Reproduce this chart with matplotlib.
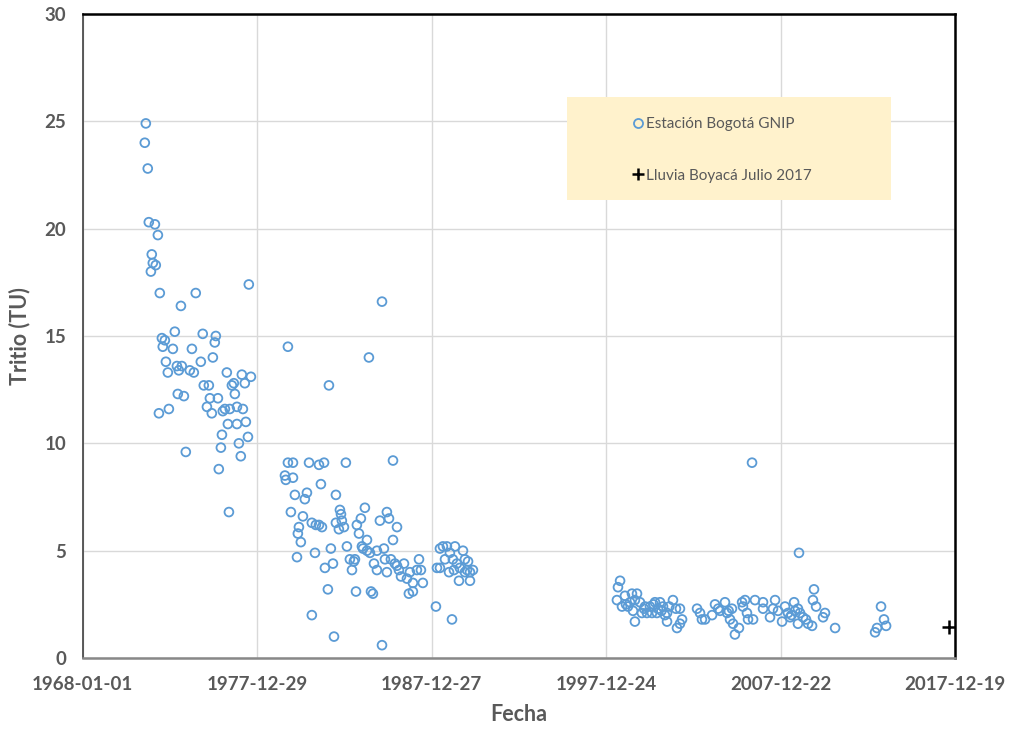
import numpy as np
import pandas as pd
import matplotlib
matplotlib.use("Agg")
import matplotlib.pyplot as plt
from matplotlib.patches import Rectangle
from matplotlib.lines import Line2D

# Estacion Bogota GNIP: fecha (anio decimal) y tritio (TU)
anio_1970s = [1971.61, 1971.55, 1971.72, 1971.78, 1972.13, 1972.30, 1971.95, 1972.01, 1972.18, 1971.90,
              1972.41, 1974.47, 1977.51, 1973.62, 1973.27, 1972.53, 1972.70, 1972.58, 1973.16, 1974.25,
              1974.87, 1975.62, 1975.56, 1975.45, 1974.76, 1972.76, 1972.87, 1973.39, 1973.67, 1973.50,
              1974.13, 1974.36, 1976.25, 1977.11, 1977.63, 1977.28, 1976.54, 1976.65, 1974.93, 1975.22,
              1976.71, 1973.44, 1973.79, 1975.28, 1975.74, 1975.11, 1976.14, 1976.02, 1976.42, 1976.83,
              1977.17, 1972.93, 1972.36, 1975.39, 1976.31, 1976.83, 1977.34, 1975.97, 1977.46, 1975.91,
              1976.94, 1977.05, 1973.90, 1975.79, 1976.37]
tu_1970s = [24.9, 24.0, 22.8, 20.3, 20.2, 19.7, 18.8, 18.4, 18.3, 18.0,
            17.0, 17.0, 17.4, 16.4, 15.2, 14.9, 14.8, 14.5, 14.4, 14.4,
            15.1, 15.0, 14.7, 14.0, 13.8, 13.8, 13.3, 13.6, 13.6, 13.4,
            13.4, 13.3, 13.3, 13.2, 13.1, 12.8, 12.7, 12.8, 12.7, 12.7,
            12.3, 12.3, 12.2, 12.1, 12.1, 11.7, 11.6, 11.5, 11.6, 11.7,
            11.6, 11.6, 11.4, 11.4, 10.9, 10.9, 11.0, 10.4, 10.3, 9.8,
            10.0, 9.4, 9.6, 8.8, 6.8]

anio_1980s = [1979.75, 1984.39, 1982.10, 1985.14, 1979.75, 1980.04, 1980.96, 1981.53, 1981.82, 1983.07,
              1985.77, 1979.58, 1979.63, 1980.04, 1981.64, 1980.15, 1980.84, 1980.72, 1982.50, 1979.92,
              1984.16, 1982.73, 1982.79, 1980.61, 1980.38, 1980.32, 1980.49, 1981.12, 1981.35, 1981.53,
              1981.70, 1982.50, 1982.67, 1982.96, 1982.84, 1983.93, 1983.70, 1983.82, 1984.28, 1985.42,
              1985.02, 1985.54, 1985.77, 1986.00, 1980.27, 1981.30, 1982.21, 1983.13, 1981.87, 1982.33,
              1983.30, 1983.59, 1983.42, 1984.05, 1984.28, 1984.85, 1985.25, 1984.68, 1984.85, 1985.42,
              1985.31, 1985.65, 1982.04, 1983.65, 1984.51, 1984.62, 1981.12, 1982.39, 1985.14, 1983.99,
              1984.45, 1983.53, 1986.11, 1986.40, 1986.23, 1986.57, 1986.74, 1986.91, 1986.68, 1986.91,
              1987.26, 1987.14, 1987.37, 1987.48, 1985.88, 1986.00,
              1988.46, 1988.63, 1988.86, 1989.32, 1989.78, 1988.29, 1988.46, 1988.75, 1989.20, 1988.98,
              1989.26, 1989.55, 1989.60, 1989.89, 1990.01, 1990.18, 1990.35, 1990.18, 1989.89, 1988.23,
              1989.15, 1989.03, 1989.43, 1990.07]
tu_1980s = [14.5, 14.0, 12.7, 16.6, 9.1, 9.1, 9.1, 9.0, 9.1, 9.1,
            9.2, 8.5, 8.3, 8.4, 8.1, 7.6, 7.7, 7.4, 7.6, 6.8,
            7.0, 6.9, 6.7, 6.6, 6.1, 5.8, 5.4, 6.3, 6.2, 6.2,
            6.1, 6.3, 6.0, 6.1, 6.4, 6.5, 6.2, 5.8, 5.5, 6.8,
            6.4, 6.5, 5.5, 6.1, 4.7, 4.9, 5.1, 5.2, 4.2, 4.4,
            4.6, 4.6, 4.1, 5.1, 5.0, 5.0, 5.1, 4.4, 4.1, 4.0,
            4.6, 4.6, 3.2, 3.1, 3.1, 3.0, 2.0, 1.0, 0.6, 5.2,
            4.9, 4.5, 4.1, 4.4, 3.8, 3.7, 4.0, 3.5, 3.0, 3.1,
            4.6, 4.1, 4.1, 3.5, 4.4, 4.3,
            5.1, 5.2, 5.2, 5.2, 5.0, 4.2, 4.2, 4.6, 4.6, 4.0,
            4.1, 3.6, 4.2, 4.6, 4.1, 4.0, 4.1, 3.6, 4.0, 2.4,
            1.8, 4.9, 4.4, 4.5]

anio_2000s = [1998.78, 1998.66, 1998.60, 1998.89, 1999.06, 1999.46, 1999.75, 1999.35, 1999.63, 1999.23,
              1999.63, 1999.92, 2000.21, 2000.49, 2000.78, 2001.07, 2000.95, 2001.24, 2000.61, 2000.89,
              2001.35, 2001.47, 2001.81, 2001.98, 2002.21, 2002.04, 2002.33, 2002.21, 2000.32, 2000.03,
              2001.47, 1999.12, 1999.52, 2000.15, 2000.70, 2001.15, 2001.60,
              2003.19, 2003.36, 2003.47, 2003.65, 2004.22, 2004.05, 2004.51, 2004.79, 2004.91, 2005.19,
              2005.36, 2005.08, 2005.25, 2005.59, 2005.77, 2005.94, 2005.82, 2006.05, 2006.11, 2006.40,
              2006.51, 2006.97, 2006.97, 2007.37, 2007.66, 2007.54, 2007.83, 2008.06, 2008.23, 2008.40,
              2008.52, 2008.75, 2008.80, 2008.97, 2009.09, 2008.97, 2009.26, 2009.43, 2009.55, 2009.78,
              2009.03, 2009.89, 2009.83, 2010.01, 2010.52, 2010.41, 2011.10, 2013.39, 2013.50, 2013.73,
              2013.90, 2014.02, 2006.34, 2004.40, 2005.00, 2008.60]
tu_2000s = [3.6, 3.3, 2.7, 2.4, 2.9, 3.0, 3.0, 2.6, 2.7, 2.4,
            1.7, 2.6, 2.4, 2.4, 2.6, 2.6, 2.3, 2.4, 2.1, 2.1,
            2.0, 1.7, 2.7, 2.3, 2.3, 1.4, 1.8, 1.6, 2.1, 2.1,
            2.1, 2.5, 2.2, 2.3, 2.5, 2.2, 2.4,
            2.3, 2.1, 1.8, 1.8, 2.5, 2.0, 2.2, 2.6, 2.1, 2.3,
            1.1, 1.8, 1.6, 1.4, 2.6, 2.7, 2.4, 2.1, 1.8, 1.8,
            2.7, 2.6, 2.3, 1.9, 2.7, 2.3, 2.2, 1.7, 2.4, 2.1,
            1.9, 2.6, 2.2, 2.3, 2.1, 1.6, 1.9, 1.8, 1.6, 1.5,
            4.9, 3.2, 2.7, 2.4, 2.1, 1.9, 1.4, 1.2, 1.4, 2.4,
            1.8, 1.5, 9.1, 2.3, 2.2, 2.0]

# Lluvia Boyaca Julio 2017
anio_boyaca = [2017.63]
tu_boyaca = [1.45]

tick_labels = ["1968-01-01", "1977-12-29", "1987-12-27", "1997-12-24", "2007-12-22", "2017-12-19"]


def a_fecha(anios):
    anios = np.asarray(anios, dtype=float)
    return pd.Timestamp("1968-01-01") + pd.to_timedelta((anios - 1968.0) * 365.25, unit="D")


anio_gnip = anio_1970s + anio_1980s + anio_2000s
tu_gnip = tu_1970s + tu_1980s + tu_2000s

plt.rcParams['font.family'] = ['Lato', 'DejaVu Sans']
gris = '#595959'
azul = '#5B9BD5'

fig = plt.figure(figsize=(10.1, 7.32), dpi=100)
ax = fig.add_axes([0.082, 0.101, 0.8635, 0.880])

ax.scatter(a_fecha(anio_gnip), tu_gnip, s=40, facecolors='none', edgecolors=azul,
           linewidths=1.3, zorder=3)
ax.scatter(a_fecha(anio_boyaca), tu_boyaca, s=110, marker='+', color='black',
           linewidths=1.8, zorder=4)

ticks = pd.to_datetime(tick_labels)
ax.set_xlim(ticks[0], ticks[-1])
ax.set_xticks(ticks)
ax.set_xticklabels(tick_labels)
ax.set_ylim(0, 30)
ax.set_yticks(np.arange(0, 31, 5))

ax.grid(True, color='#D9D9D9', linewidth=1.0, zorder=0)
ax.set_axisbelow(True)
ax.tick_params(length=0, pad=13, labelsize=13.5, labelcolor=gris)
for lab in ax.get_xticklabels() + ax.get_yticklabels():
    lab.set_fontweight('bold')
ax.tick_params(axis='y', pad=12)

for s in ['top', 'right']:
    ax.spines[s].set_color('black')
    ax.spines[s].set_linewidth(1.8)
ax.spines['left'].set_color('#404040')
ax.spines['left'].set_linewidth(1.2)
ax.spines['bottom'].set_color('#888888')
ax.spines['bottom'].set_linewidth(1.8)

ax.set_xlabel('Fecha', fontsize=15.5, fontweight='bold', color=gris, labelpad=8)
ax.set_ylabel('Tritio (TU)', fontsize=15.5, fontweight='bold', color=gris, labelpad=10)

# caja de leyenda
ax.add_patch(Rectangle((0.555, 0.711), 0.372, 0.160, transform=ax.transAxes,
                       facecolor='#FFF2CC', edgecolor='none', zorder=5))
handles = [Line2D([], [], linestyle='none', marker='o', markerfacecolor='none',
                  markeredgecolor=azul, markeredgewidth=1.3, markersize=6.5),
           Line2D([], [], linestyle='none', marker='+', color='black',
                  markeredgewidth=1.8, markersize=9)]
leg = ax.legend(handles, ['Estación Bogotá GNIP', 'Lluvia Boyacá Julio 2017'],
                loc='upper left', bbox_to_anchor=(0.615, 0.861), frameon=False,
                fontsize=11, labelspacing=2.45, handlelength=0.6, handletextpad=0.25,
                labelcolor=gris)
leg.set_zorder(6)

fig.savefig('out.png', dpi=100)
